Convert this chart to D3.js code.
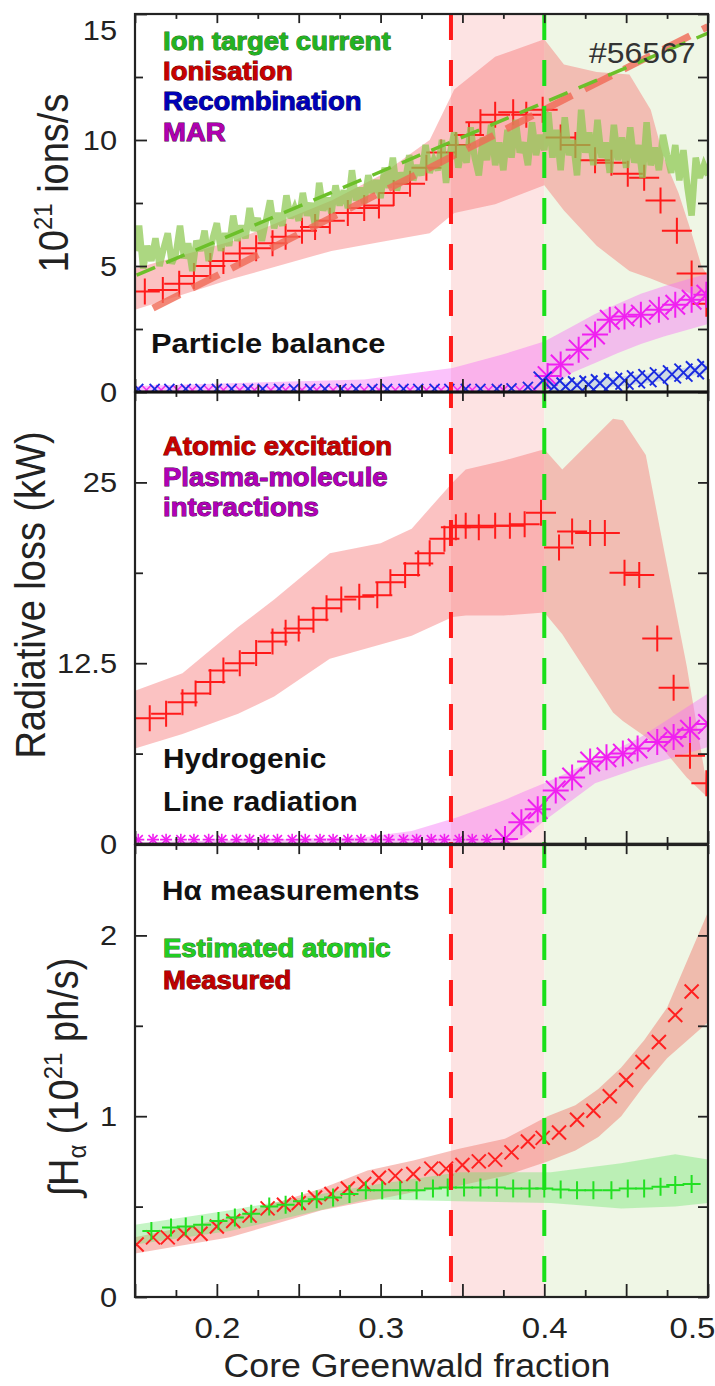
<!DOCTYPE html>
<html><head><meta charset="utf-8">
<script src="https://cdn.jsdelivr.net/npm/d3@7"></script>
<style>
body{margin:0;background:#fff}
svg text{font-family:"Liberation Sans",Arial,Helvetica,sans-serif}
</style>
</head><body>
<svg id="c" width="715" height="1386"></svg>
<script>
// ---------------- DATA ----------------
// x axis
const xDomain = [0.15, 0.5];
const xTickLabels = [0.2, 0.3, 0.4, 0.5];
const xMajorTicks = [0.15, 0.2, 0.25, 0.3, 0.35, 0.4, 0.45, 0.5];
const xMinorTicks = [0.175, 0.225, 0.275, 0.325, 0.375, 0.425, 0.475];
const redLineX = 0.343;
const greenLineX = 0.400;

// top panel: particle balance (10^21 ions/s)
const topTickLabels = [0, 5, 10, 15];
const topMinorTicks = [2.5, 7.5, 12.5];
const ionTargetStart = 0.15, ionTargetStep = 0.0025;
const ionTarget = [5.6,6.6,4.9,5.8,5.2,6.1,5.0,5.7,6.3,5.1,5.5,6.6,5.3,5.9,4.8,6.0,5.6,6.4,5.2,6.1,
  6.7,5.6,6.3,5.8,7.0,6.0,6.6,6.1,7.3,6.4,6.9,6.0,6.8,7.6,6.5,7.1,6.6,7.8,6.9,7.3,
  6.8,7.9,7.0,7.5,6.6,8.3,7.2,7.7,7.1,8.2,7.4,8.0,7.3,8.8,7.6,8.1,7.5,8.6,7.9,8.4,
  7.7,8.9,8.1,9.3,8.0,8.7,8.3,9.4,8.4,9.0,8.6,9.8,8.7,9.2,8.8,10.0,8.3,9.5,10.3,8.9,
  9.8,9.1,10.5,9.3,8.6,10.1,9.2,10.6,9.0,9.9,8.8,10.4,9.3,10.8,9.5,9.9,9.0,10.7,9.4,10.2,
  9.6,11.1,9.3,10.4,8.8,10.9,9.4,10.0,8.6,11.2,9.5,10.3,9.0,10.8,9.3,9.9,8.7,10.6,9.2,10.1,
  8.9,10.5,9.1,9.8,8.5,10.7,9.0,9.7,8.8,10.2,9.4,8.7,9.8,8.4,9.6,8.1,7.0,9.3,8.5,9.0,8.6];
const ionTargetFitX = [0.151, 0.5];
const ionTargetFit = [4.64, 14.24];
const ionisFitX = [0.161, 0.5];
const ionisFit = [3.33, 14.5];
const ionisX = [0.156,0.167,0.177,0.186,0.196,0.204,0.214,0.224,0.234,0.242,0.252,0.260,0.269,0.280,0.290,0.299,0.308,0.318,0.328,0.337,0.346,0.354,0.361,0.370,0.381,0.389,0.399,0.410,0.419,0.431,0.441,0.451,0.461,0.471,0.481,0.490,0.499];
const ionisV = [3.99,4.05,4.3,4.6,5.0,5.2,5.5,5.7,5.9,6.16,6.4,6.55,6.8,7.1,7.3,7.4,7.9,8.26,8.9,9.5,9.8,10.2,10.7,11.0,11.1,11.0,11.2,10.1,9.8,9.2,9.1,8.66,8.5,7.6,6.4,4.7,3.5];
const ionisBandX  = [0.15,0.21,0.27,0.30,0.33,0.345,0.37,0.40,0.412,0.432,0.452,0.465,0.473,0.482,0.49,0.496,0.50];
const ionisBandHi = [4.9,6.0,7.6,8.6,10.0,12.0,13.3,14.0,13.0,12.7,12.6,11.2,9.3,7.9,6.3,5.0,4.6];
const ionisBandLo = [3.26,4.5,5.6,5.95,6.3,7.1,7.45,8.2,7.2,5.8,4.8,4.5,4.3,4.1,3.9,3.7,3.5];
const recombX0 = [0.152,0.162,0.171,0.181,0.190,0.200,0.209,0.219,0.228,0.238,0.247,0.257,0.266,0.276,0.285,0.295,0.304,0.314,0.323,0.333,0.342,0.352,0.361,0.371,0.380,0.390];
const recombV0 = [0.12,0.12,0.12,0.12,0.12,0.12,0.12,0.12,0.12,0.12,0.12,0.12,0.12,0.12,0.12,0.12,0.12,0.12,0.12,0.12,0.12,0.12,0.12,0.12,0.14,0.2];
const recombX = [0.399,0.406,0.413,0.420,0.427,0.434,0.442,0.449,0.456,0.463,0.470,0.478,0.485,0.492,0.499];
const recombV = [0.45,0.22,0.22,0.27,0.3,0.35,0.4,0.45,0.5,0.55,0.62,0.7,0.77,0.86,0.95];
const marX0 = [0.157,0.166,0.176,0.185,0.195,0.204,0.214,0.223,0.233,0.242,0.252,0.261,0.271,0.280,0.290,0.299,0.309,0.318,0.328,0.337,0.347,0.356,0.366,0.375,0.385,0.394];
const marV0 = [0.08,0.08,0.08,0.08,0.08,0.08,0.08,0.08,0.08,0.08,0.08,0.08,0.08,0.08,0.08,0.08,0.08,0.08,0.08,0.08,0.08,0.08,0.08,0.08,0.08,0.1];
const marX = [0.402,0.410,0.421,0.431,0.440,0.449,0.459,0.470,0.480,0.490,0.499];
const marV = [0.63,1.09,1.68,2.28,2.87,3.0,3.07,3.26,3.46,3.66,3.86];
const marBandX  = [0.15,0.29,0.344,0.375,0.40,0.417,0.431,0.445,0.459,0.473,0.50];
const marBandHi = [0.24,0.5,0.95,1.5,2.0,2.6,3.1,3.5,3.9,4.2,4.7];
const marBandLo = [0,0,0,0,0.05,0.76,1.15,1.55,1.9,2.2,2.7];

// middle panel: radiative loss (kW)
const midTickLabels = [0, 12.5, 25];
const midMinorTicks = [6.25, 18.75];
const atomX = [0.159,0.169,0.179,0.187,0.196,0.204,0.214,0.224,0.234,0.242,0.250,0.259,0.267,0.276,0.287,0.298,0.306,0.315,0.323,0.330,0.339,0.346,0.352,0.360,0.370,0.379,0.388,0.398,0.409,0.417,0.428,0.437,0.449,0.458,0.469,0.479,0.489,0.499];
const atomV = [8.7,9.0,9.8,10.4,11.2,12.0,12.5,13.2,14.0,14.6,14.9,15.5,16.3,16.9,17.1,17.2,18.1,18.6,19.4,20.1,21.1,21.9,22.0,21.9,22.0,22.0,22.1,22.9,20.5,21.6,21.5,21.5,18.75,18.6,14.2,10.8,6.1,4.2];
const atomBandX  = [0.15,0.179,0.213,0.235,0.269,0.30,0.319,0.344,0.352,0.375,0.40,0.411,0.442,0.448,0.462,0.473,0.487,0.50];
const atomBandHi = [10.6,11.8,15.0,16.9,20.1,20.8,21.8,25.0,25.9,26.5,27.3,25.9,29.4,29.3,26.9,20.4,12.3,3.6];
const atomBandLo = [6.6,7.6,9.0,10.2,12.8,13.8,14.4,15.7,15.8,15.8,16.0,14.5,9.1,8.5,7.4,6.5,4.6,3.2];
const pmiX0 = [0.152,0.161,0.169,0.178,0.186,0.195,0.203,0.212,0.220,0.229,0.237,0.246,0.254,0.263,0.271,0.280,0.288,0.297,0.305,0.314,0.322,0.331,0.339,0.348,0.356,0.365];
const pmiV0 = [0.3,0.3,0.3,0.3,0.3,0.3,0.3,0.3,0.3,0.3,0.3,0.3,0.3,0.3,0.3,0.3,0.3,0.3,0.3,0.3,0.3,0.3,0.3,0.3,0.3,0.3];
const pmiX = [0.376,0.386,0.396,0.407,0.417,0.428,0.438,0.448,0.457,0.469,0.479,0.489,0.500];
const pmiV = [0.35,1.5,2.4,3.7,4.6,5.7,6.0,6.25,6.6,7.06,7.4,7.9,8.3];
const pmiBandX  = [0.15,0.29,0.319,0.347,0.375,0.387,0.40,0.431,0.459,0.50];
const pmiBandHi = [0.1,0.46,0.9,1.85,3.0,3.6,4.2,5.8,7.4,10.4];
const pmiBandLo = [0,0,0,0,0,0.4,1.6,4.2,5.3,6.7];

// bottom panel: H-alpha (10^21 ph/s)
const botTickLabels = [0, 1, 2];
const botMinorTicks = [0.5, 1.5];
const measX = [0.151,0.161,0.170,0.180,0.190,0.200,0.210,0.220,0.231,0.241,0.250,0.260,0.270,0.280,0.290,0.299,0.309,0.320,0.331,0.340,0.350,0.360,0.370,0.380,0.390,0.399,0.409,0.420,0.430,0.440,0.450,0.460,0.470,0.480,0.490];
const measV = [0.29,0.33,0.33,0.35,0.35,0.39,0.42,0.45,0.49,0.51,0.52,0.55,0.57,0.60,0.625,0.66,0.67,0.68,0.71,0.71,0.73,0.75,0.76,0.80,0.86,0.88,0.91,0.98,1.03,1.11,1.20,1.30,1.41,1.56,1.69];
const measBandX  = [0.15,0.208,0.264,0.292,0.320,0.348,0.376,0.402,0.419,0.433,0.447,0.461,0.475,0.50];
const measBandHi = [0.33,0.44,0.60,0.70,0.755,0.82,0.875,1.0,1.06,1.15,1.27,1.42,1.6,2.13];
const measBandLo = [0.24,0.33,0.48,0.53,0.58,0.615,0.67,0.75,0.81,0.885,1.0,1.17,1.32,1.52];
const estX = [0.160,0.172,0.181,0.191,0.201,0.211,0.221,0.232,0.242,0.252,0.261,0.271,0.281,0.291,0.301,0.312,0.322,0.332,0.341,0.351,0.361,0.371,0.381,0.391,0.400,0.410,0.420,0.430,0.441,0.451,0.461,0.471,0.480,0.490];
const estV = [0.365,0.385,0.39,0.40,0.42,0.44,0.46,0.50,0.51,0.53,0.54,0.55,0.57,0.59,0.59,0.59,0.59,0.60,0.605,0.605,0.605,0.605,0.60,0.60,0.60,0.595,0.59,0.59,0.59,0.60,0.60,0.61,0.62,0.625];
const estBandX  = [0.15,0.208,0.292,0.348,0.404,0.447,0.480,0.50];
const estBandHi = [0.40,0.48,0.615,0.69,0.69,0.74,0.79,0.76];
const estBandLo = [0.29,0.365,0.54,0.53,0.52,0.49,0.50,0.52];

// ---------------- DRAW ----------------
const SX = 1.1; // horizontal glyph stretch of the reference
const svg = d3.select('#c');
svg.append('rect').attr('width',715).attr('height',1386).attr('fill','#fff');
const x = d3.scaleLinear(xDomain, [135, 708]);
const yTop = d3.scaleLinear([0, 15], [392, 14]);
const yMid = d3.scaleLinear([0, 31.25], [844, 392]);
const yBot = d3.scaleLinear([0, 2.5], [1297, 845]);
const panels = [
  {id:'p0', y:yTop, labels:topTickLabels, minor:topMinorTicks},
  {id:'p1', y:yMid, labels:midTickLabels, minor:midMinorTicks},
  {id:'p2', y:yBot, labels:botTickLabels, minor:botMinorTicks}
];
const defs = svg.append('defs');
panels.forEach(p => {
  const [b, t] = p.y.range();
  defs.append('clipPath').attr('id', 'clip' + p.id).append('rect')
    .attr('x', 135).attr('y', t).attr('width', 708 - 135).attr('height', b - t);
});

// shaded regimes
svg.append('rect').attr('x', x(redLineX)).attr('y', 14).attr('width', x(greenLineX) - x(redLineX))
  .attr('height', 1297 - 14).attr('fill', '#fde3e3');
svg.append('rect').attr('x', x(greenLineX)).attr('y', 14).attr('width', x(0.5) - x(greenLineX))
  .attr('height', 1297 - 14).attr('fill', '#eff6e5');

const pg = panels.map(p => svg.append('g').attr('clip-path', `url(#clip${p.id})`));

function band(g, sy, xs, lo, hi, fill) {
  const a = d3.area().x(d => x(d[0])).y0(d => sy(d[1])).y1(d => sy(d[2]));
  g.append('path').datum(xs.map((v, i) => [v, lo[i], hi[i]])).attr('d', a).attr('fill', fill);
}
function plusM(g, sy, xs, vs, hw, hh, color, sw) {
  g.append('g').selectAll('path').data(d3.zip(xs, vs)).join('path')
    .attr('d', d => { const cx = x(d[0]), cy = sy(d[1]); return `M${cx-hw},${cy}H${cx+hw}M${cx},${cy-hh}V${cy+hh}`; })
    .attr('stroke', color).attr('stroke-width', sw).attr('fill', 'none');
}
function crossM(g, sy, xs, vs, r, color, sw) {
  g.append('g').selectAll('path').data(d3.zip(xs, vs)).join('path')
    .attr('d', d => { const cx = x(d[0]), cy = sy(d[1]); return `M${cx-r},${cy-r}L${cx+r},${cy+r}M${cx-r},${cy+r}L${cx+r},${cy-r}`; })
    .attr('stroke', color).attr('stroke-width', sw).attr('fill', 'none');
}
function starM(g, sy, xs, vs, r, color, sw) {
  plusM(g, sy, xs, vs, r, r, color, sw);
  crossM(g, sy, xs, vs, r * 0.75, color, sw);
}
function line(g, sy, xs, vs) {
  return g.append('path').datum(d3.zip(xs, vs)).attr('fill', 'none')
    .attr('d', d3.line().x(d => x(d[0])).y(d => sy(d[1])));
}

// --- top panel
const g0 = pg[0];
band(g0, yTop, ionisBandX, ionisBandLo, ionisBandHi, 'rgba(246,110,110,0.42)');
band(g0, yTop, marBandX, marBandLo, marBandHi, 'rgba(245,110,245,0.42)');
band(g0, yTop, recombX, recombV.map(v => Math.max(0, v - 0.2)), recombV.map(v => v + 0.18), 'rgba(150,165,225,0.35)');
plusM(g0, yTop, ionisX, ionisV, 15, 13, '#ff1a1a', 2);
const itX = ionTarget.map((v, i) => ionTargetStart + i * ionTargetStep);
line(g0, yTop, itX, ionTarget).attr('stroke', 'rgba(140,200,80,0.72)').attr('stroke-width', 6.5)
  .attr('stroke-linejoin', 'miter').attr('stroke-miterlimit', 3);
line(g0, yTop, ionisFitX, ionisFit).attr('stroke', 'rgba(240,105,85,0.8)').attr('stroke-width', 7).attr('stroke-dasharray', '30,14');
line(g0, yTop, ionTargetFitX, ionTargetFit).attr('stroke', '#6cc02a').attr('stroke-width', 3.5).attr('stroke-dasharray', '20,12');
crossM(g0, yTop, marX0, marV0, 5, '#f030f0', 1.5);
crossM(g0, yTop, recombX0, recombV0, 5, '#1a2be0', 1.8);
starM(g0, yTop, marX, marV, 13, '#f020f0', 2);
crossM(g0, yTop, recombX, recombV, 9, '#1a2be0', 2);

// --- middle panel
const g1 = pg[1];
band(g1, yMid, atomBandX, atomBandLo, atomBandHi, 'rgba(246,110,110,0.42)');
band(g1, yMid, pmiBandX, pmiBandLo, pmiBandHi, 'rgba(245,110,245,0.42)');
plusM(g1, yMid, atomX, atomV, 15, 13, '#ff1a1a', 2);
starM(g1, yMid, pmiX0, pmiV0, 6, '#f020f0', 1.6);
starM(g1, yMid, pmiX, pmiV, 13, '#f020f0', 2);

// --- bottom panel
const g2 = pg[2];
band(g2, yBot, measBandX, measBandLo, measBandHi, 'rgba(240,115,105,0.45)');
band(g2, yBot, estBandX, estBandLo, estBandHi, 'rgba(110,230,110,0.4)');
crossM(g2, yBot, measX, measV, 7, '#ff2020', 2);
plusM(g2, yBot, estX, estV, 9, 9, '#22e022', 2);

// vertical dashed regime lines
[[redLineX, '#ff1a1a'], [greenLineX, '#19e019']].forEach(([v, c]) => {
  svg.append('line').attr('x1', x(v)).attr('x2', x(v)).attr('y1', 14).attr('y2', 1297)
    .attr('stroke', c).attr('stroke-width', 4).attr('stroke-dasharray', '26,20');
});

// axes + frames
function styleAxis(g, noLabels) {
  g.select('.domain').remove();
  g.selectAll('.tick line').attr('stroke', '#222').attr('stroke-width', 1.8);
  if (noLabels) g.selectAll('.tick text').remove();
}
panels.forEach((p, i) => {
  const [b, t] = p.y.range();
  [[xMajorTicks, 13], [xMinorTicks, 7]].forEach(([vals, len]) => {
    svg.append('g').attr('transform', `translate(0,${b})`)
      .call(d3.axisBottom(x).tickValues(vals).tickSize(-len).tickFormat(''))
      .call(g => styleAxis(g, true));
    svg.append('g').attr('transform', `translate(0,${t})`)
      .call(d3.axisTop(x).tickValues(vals).tickSize(-len * 0.7).tickFormat(''))
      .call(g => styleAxis(g, true));
  });
  const ax = svg.append('g').attr('transform', 'translate(135,0)')
    .call(d3.axisLeft(p.y).tickValues(p.labels).tickSize(-12).tickPadding(18).tickFormat(d3.format('')))
    .call(g => styleAxis(g, false));
  ax.selectAll('.tick text').attr('font-size', 28).attr('fill', '#222')
    .attr('x', -18 / SX).attr('transform', `scale(${SX},1)`)
    .attr('dy', d => (i === 0 && d === 15) ? '0.9em' : '0.34em');
  svg.append('g').attr('transform', 'translate(135,0)')
    .call(d3.axisLeft(p.y).tickValues(p.minor).tickSize(-8).tickFormat(''))
    .call(g => styleAxis(g, true));
  svg.append('g').attr('transform', 'translate(708,0)')
    .call(d3.axisRight(p.y).tickValues(p.labels.concat(p.minor)).tickSize(-10).tickFormat(''))
    .call(g => styleAxis(g, true));
  svg.append('rect').attr('x', 135).attr('y', t).attr('width', 708 - 135).attr('height', b - t)
    .attr('fill', 'none').attr('stroke', '#222').attr('stroke-width', 2.2);
});
svg.append('line').attr('x1', 135).attr('x2', 708).attr('y1', yTop(0)).attr('y2', yTop(0)).attr('stroke', '#111').attr('stroke-width', 3.2);
svg.append('line').attr('x1', 135).attr('x2', 708).attr('y1', yMid(0)).attr('y2', yMid(0)).attr('stroke', '#222').attr('stroke-width', 2.6);

// x tick labels (bottom panel)
const xl = svg.append('g').attr('transform', 'translate(0,1297)')
  .call(d3.axisBottom(x).tickValues(xTickLabels).tickSize(0).tickPadding(20).tickFormat(d3.format('.1f')));
xl.select('.domain').remove();
xl.selectAll('.tick text').attr('font-size', 30).attr('fill', '#222')
  .attr('transform', d => `translate(${d === 0.5 ? -16 : 0},0) scale(${SX},1)`);

// text helper
function txt(s, px, py, size, weight, fill, stroke, anchor) {
  const t = svg.append('text').attr('transform', `translate(${px},${py}) scale(${SX},1)`)
    .attr('font-size', size).attr('font-weight', weight).attr('fill', fill)
    .attr('text-anchor', anchor || 'start').text(s);
  if (stroke) t.attr('stroke', stroke).attr('stroke-width', 0.9).attr('paint-order', 'stroke');
  return t;
}
txt('Ion target current', 163, 50, 25, 'bold', '#22b322', '#2d6b1a');
txt('Ionisation', 163, 80, 25, 'bold', '#c80000', '#5a0000');
txt('Recombination', 163, 110, 25, 'bold', '#0000b8', '#00004a');
txt('MAR', 163, 141, 25, 'bold', '#b000b0', '#480048');
txt('#56567', 589, 63, 29, 'normal', '#333');
txt('Particle balance', 151, 353, 28, 'bold', '#111');
txt('Atomic excitation', 163, 455, 25, 'bold', '#c80000', '#5a0000');
txt('Plasma-molecule', 163, 486, 25, 'bold', '#b000b8', '#480048');
txt('interactions', 163, 516, 25, 'bold', '#b000b8', '#480048');
txt('Hydrogenic', 163, 768, 27, 'bold', '#111');
txt('Line radiation', 163, 811, 27, 'bold', '#111');
txt('Hα measurements', 162, 900, 27, 'bold', '#111');
txt('Estimated atomic', 163, 957, 25, 'bold', '#22cc22', '#2d6b1a');
txt('Measured', 163, 989, 25, 'bold', '#c00000', '#5a0000');

function ytitle(px, py, parts) {
  const t = svg.append('text').attr('transform', `translate(${px},${py}) scale(${SX},1) rotate(-90)`)
    .attr('font-size', 38).attr('fill', '#222').attr('text-anchor', 'middle');
  parts.forEach(([s, kind]) => {
    const sp = t.append('tspan').text(s);
    if (kind === 'sup') sp.attr('font-size', 24).attr('baseline-shift', '60%');
    if (kind === 'sub') sp.attr('font-size', 24).attr('baseline-shift', '-30%');
  });
}
ytitle(68, 183, [['10'], ['21', 'sup'], [' ions/s']]);
ytitle(45, 595, [['Radiative loss (kW)']]);
ytitle(78, 1077, [['∫H'], ['α', 'sub'], [' (10'], ['21', 'sup'], [' ph/s)']]);
svg.append('text').attr('transform', `translate(417,1377) scale(1.05,1)`)
  .attr('font-size', 34).attr('fill', '#222').attr('text-anchor', 'middle').text('Core Greenwald fraction');
</script>
</body></html>
